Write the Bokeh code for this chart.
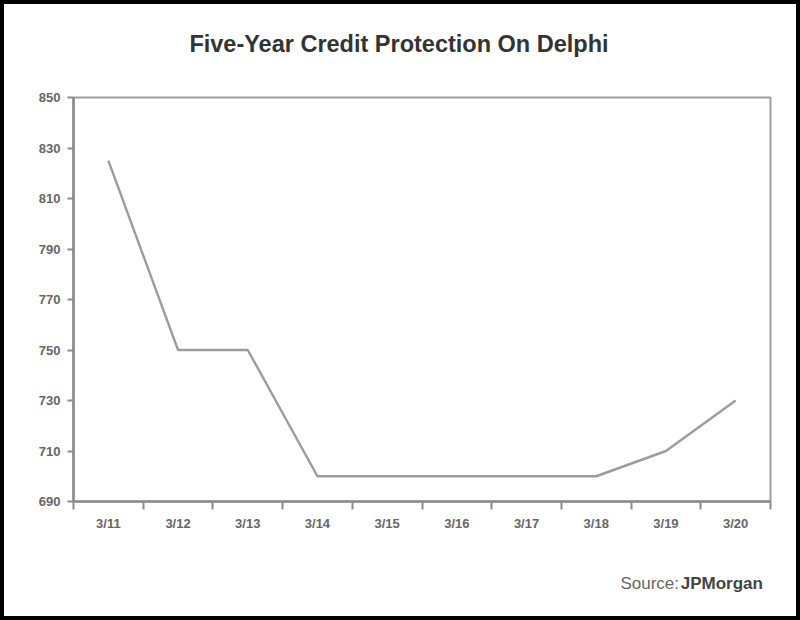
from bokeh.plotting import figure
from bokeh.layouts import column
from bokeh.models import FixedTicker, Label, Range1d
from bokeh.embed import file_html
from bokeh.resources import INLINE

title = "Five-Year Credit Protection On Delphi"
source_prefix = "Source:"
source_name = "JPMorgan"
categories = ["3/11", "3/12", "3/13", "3/14", "3/15", "3/16", "3/17", "3/18", "3/19", "3/20"]
spread = [825, 750, 750, 700, 700, 700, 700, 700, 710, 730]
y_ticks = [690, 710, 730, 750, 770, 790, 810, 830, 850]

FONT = "Liberation Sans"
AX = "#8c8c8c"
B = "4px solid black"

n = len(categories)
xs = [i + 0.5 for i in range(n)]


def strip(height, styles):
    s = figure(width=800, height=height, output_backend="svg", toolbar_location=None,
               x_range=Range1d(0, 800), y_range=Range1d(0, height),
               min_border=0, x_axis_type=None, y_axis_type=None)
    s.outline_line_color = None
    s.grid.visible = False
    s.background_fill_color = "white"
    s.border_fill_color = "white"
    s.styles = styles
    return s


# header strip with the title
h = strip(70, {"border-top": B, "border-left": B, "border-right": B})
h.add_layout(Label(x=133, y=31, text=title, text_font=FONT, text_font_size="23.5px",
                   text_font_style="bold", text_color="#333333",
                   text_align="left", text_baseline="middle"))

# main chart
p = figure(width=800, height=490, output_backend="svg", toolbar_location=None,
           x_range=Range1d(0, n), y_range=Range1d(y_ticks[0], y_ticks[-1]),
           min_border_left=69, min_border_right=34, min_border_top=27, min_border_bottom=59)
p.background_fill_color = "white"
p.border_fill_color = "white"
p.outline_line_color = "#a0a0a0"
p.outline_line_width = 2
p.grid.visible = False
p.styles = {"border-left": B, "border-right": B}

p.line(xs, spread, line_color="#9c9c9c", line_width=2.4)

xa = p.xaxis[0]
xa.ticker = FixedTicker(ticks=xs, minor_ticks=list(range(n + 1)))
xa.major_label_overrides = {x: c for x, c in zip(xs, categories)}
xa.major_tick_line_color = None
xa.major_tick_out = 0
xa.major_tick_in = 0
xa.minor_tick_line_color = AX
xa.minor_tick_line_width = 2
xa.minor_tick_out = 8
xa.minor_tick_in = 0
xa.axis_line_color = AX
xa.axis_line_width = 2.5
xa.major_label_standoff = 6
xa.major_label_text_font = FONT
xa.major_label_text_font_size = "13px"
xa.major_label_text_font_style = "bold"
xa.major_label_text_color = "#666666"

ya = p.yaxis[0]
ya.ticker = FixedTicker(ticks=y_ticks, minor_ticks=[])
ya.major_tick_line_color = AX
ya.major_tick_line_width = 2
ya.major_tick_out = 6
ya.major_tick_in = 0
ya.minor_tick_line_color = None
ya.axis_line_color = AX
ya.axis_line_width = 2.5
ya.major_label_standoff = 7
ya.major_label_text_font = FONT
ya.major_label_text_font_size = "13px"
ya.major_label_text_font_style = "bold"
ya.major_label_text_color = "#666666"

# footer strip with the source note
f = strip(60, {"border-bottom": B, "border-left": B, "border-right": B})
f.add_layout(Label(x=695, y=37, text=source_prefix, text_font=FONT,
                   text_font_size="17px", text_color="#666666",
                   text_align="right", text_baseline="middle"))
f.add_layout(Label(x=697, y=37, text=source_name, text_font=FONT,
                   text_font_size="17px", text_font_style="bold", text_color="#444444",
                   text_align="left", text_baseline="middle"))

layout = column(h, p, f, spacing=0)
open("out.html", "w").write(file_html(layout, INLINE))
